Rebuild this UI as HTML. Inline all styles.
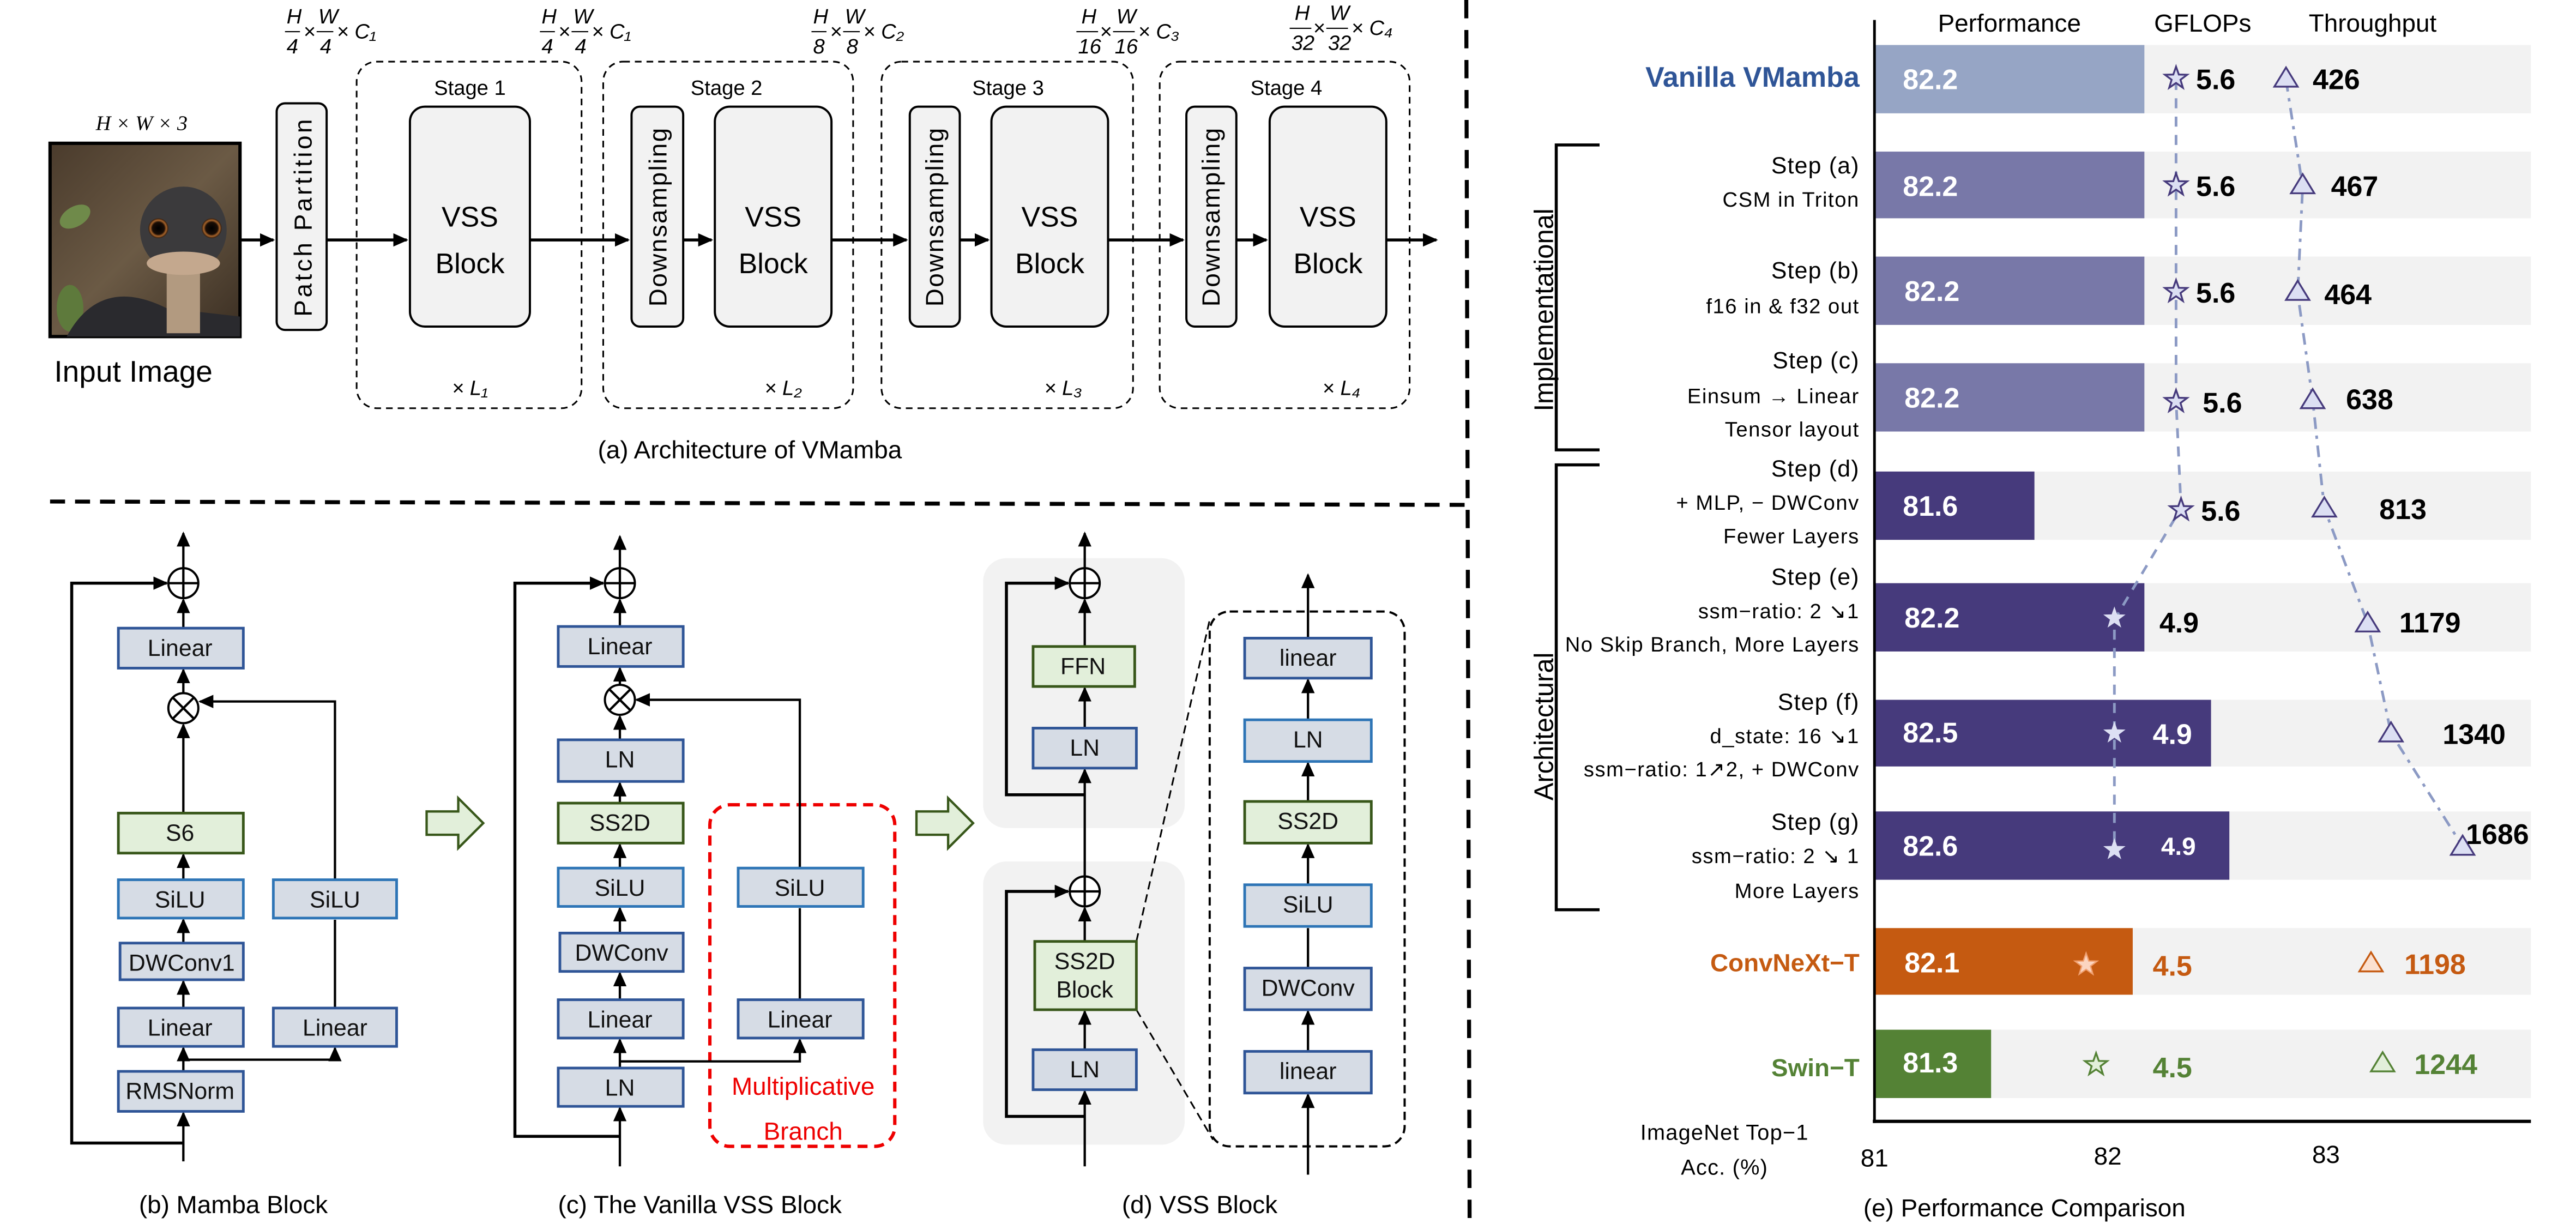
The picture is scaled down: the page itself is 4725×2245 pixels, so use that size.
<!DOCTYPE html>
<html><head><meta charset="utf-8"><style>
html,body{margin:0;padding:0;background:#fff;}
svg{display:block;}
text{font-family:"Liberation Sans",sans-serif;}
.b{fill:#d6dce5;stroke:#2f5597;stroke-width:1.6;}
.bl{fill:#d6dce5;stroke:#2e75b6;stroke-width:1.6;}
.g{fill:#e2efda;stroke:#38571a;stroke-width:1.6;}
.t{font-size:14px;text-anchor:middle;dominant-baseline:central;fill:#111;}
.ln{stroke:#000;stroke-width:1.4;fill:none;}
.lnb{stroke:#000;stroke-width:1.8;fill:none;}
.st{font-size:14px;text-anchor:end;fill:#000;letter-spacing:0.4px;}
.sb{font-size:12.5px;text-anchor:end;fill:#000;letter-spacing:0.5px;}
.bv{font-size:17px;font-weight:bold;fill:#fff;dominant-baseline:central;}
.nv{font-size:17px;font-weight:bold;fill:#000;dominant-baseline:central;}
.m{font-family:"Liberation Serif",serif;font-style:italic;font-size:12.5px;}
</style></head><body>
<svg width="4725" height="2245" viewBox="0 0 1546 734.6" xmlns="http://www.w3.org/2000/svg">
<defs>
<marker id="a" markerUnits="userSpaceOnUse" markerWidth="9" markerHeight="8" refX="8" refY="4" orient="auto"><path d="M0,0 L9,4 L0,8 z" fill="#000"/></marker>
<path id="star" d="M0,-7 L1.65,-2.27 L6.66,-2.16 L2.66,0.87 L4.11,5.66 L0,2.8 L-4.11,5.66 L-2.66,0.87 L-6.66,-2.16 L-1.65,-2.27 Z"/>
<path id="tri" d="M0,-6.5 L7,5 L-7,5 Z"/>
<linearGradient id="bg" x1="0" y1="0" x2="1" y2="1"><stop offset="0" stop-color="#4a3b2c"/><stop offset="0.5" stop-color="#6b5a45"/><stop offset="1" stop-color="#3a2e22"/></linearGradient>
<radialGradient id="eye"><stop offset="0" stop-color="#000"/><stop offset="0.6" stop-color="#1a0d05"/><stop offset="0.8" stop-color="#a8642a"/><stop offset="1" stop-color="#2a1a10"/></radialGradient>
</defs>

<!-- ===== (a) ===== -->
<text x="85" y="78" class="m" text-anchor="middle" font-size="14">H × W × 3</text>
<rect x="30" y="86" width="114" height="116" fill="url(#bg)" stroke="#000" stroke-width="2"/>
<ellipse cx="45" cy="130" rx="10" ry="6" fill="#6f8a4a" transform="rotate(-30 45 130)"/>
<ellipse cx="42" cy="185" rx="8" ry="14" fill="#5e7a3c"/>
<path d="M40,202 Q60,165 100,185 L144,190 L144,202 Z" fill="#2a2a2e"/>
<rect x="100" y="160" width="20" height="40" fill="#b29a80"/>
<ellipse cx="110" cy="138" rx="26" ry="26" fill="#3b3a3c"/>
<ellipse cx="110" cy="158" rx="22" ry="7" fill="#c4a88e"/>
<circle cx="95" cy="137" r="6" fill="url(#eye)"/>
<circle cx="127" cy="137" r="6" fill="url(#eye)"/>
<text x="80" y="229" font-size="18" text-anchor="middle">Input Image</text>

<line x1="144" y1="144" x2="164" y2="144" class="lnb" marker-end="url(#a)"/>
<rect x="166" y="62" width="30" height="136" rx="5" fill="#f2f2f2" stroke="#000" stroke-width="1.3"/>
<text transform="translate(187,130) rotate(-90)" font-size="15" text-anchor="middle" letter-spacing="1.5">Patch Partition</text>

<g fill="none" stroke="#000" stroke-width="1" stroke-dasharray="4,3">
<rect x="214" y="37" width="135" height="208" rx="12"/>
<rect x="362" y="37" width="150" height="208" rx="12"/>
<rect x="529" y="37" width="151" height="208" rx="12"/>
<rect x="696" y="37" width="150" height="208" rx="12"/>
</g>
<g font-size="12.5" text-anchor="middle">
<text x="282" y="57">Stage 1</text><text x="436" y="57">Stage 2</text><text x="605" y="57">Stage 3</text><text x="772" y="57">Stage 4</text>
</g>
<g fill="#f2f2f2" stroke="#000" stroke-width="1.3">
<rect x="246" y="64" width="72" height="132" rx="9"/>
<rect x="429" y="64" width="70" height="132" rx="9"/>
<rect x="595" y="64" width="70" height="132" rx="9"/>
<rect x="762" y="64" width="70" height="132" rx="9"/>
<rect x="379" y="64" width="31" height="132" rx="5"/>
<rect x="546" y="64" width="30" height="132" rx="5"/>
<rect x="712" y="64" width="30" height="132" rx="5"/>
</g>
<g font-size="17" text-anchor="middle">
<text x="282" y="136">VSS</text><text x="282" y="164">Block</text>
<text x="464" y="136">VSS</text><text x="464" y="164">Block</text>
<text x="630" y="136">VSS</text><text x="630" y="164">Block</text>
<text x="797" y="136">VSS</text><text x="797" y="164">Block</text>
</g>
<g font-size="15" text-anchor="middle" letter-spacing="0.8">
<text transform="translate(400,130) rotate(-90)">Downsampling</text>
<text transform="translate(566,130) rotate(-90)">Downsampling</text>
<text transform="translate(732,130) rotate(-90)">Downsampling</text>
</g>
<g class="lnb">
<line x1="196" y1="144" x2="244" y2="144" marker-end="url(#a)"/>
<line x1="318" y1="144" x2="377" y2="144" marker-end="url(#a)"/>
<line x1="410" y1="144" x2="427" y2="144" marker-end="url(#a)"/>
<line x1="499" y1="144" x2="544" y2="144" marker-end="url(#a)"/>
<line x1="576" y1="144" x2="593" y2="144" marker-end="url(#a)"/>
<line x1="665" y1="144" x2="710" y2="144" marker-end="url(#a)"/>
<line x1="742" y1="144" x2="760" y2="144" marker-end="url(#a)"/>
<line x1="832" y1="144" x2="862" y2="144" marker-end="url(#a)"/>
</g>
<g class="m" font-size="15" text-anchor="middle">
<text x="282" y="237">× L₁</text><text x="470" y="237">× L₂</text><text x="638" y="237">× L₃</text><text x="805" y="237">× L₄</text>
</g>
<!-- dims -->
<g class="m">
<g transform="translate(172,0)"><text x="0" y="14">H</text><text x="0" y="32">4</text><line x1="-1" y1="19" x2="8" y2="19" stroke="#000" stroke-width="0.7"/><text x="10" y="23">×</text><text x="19" y="14">W</text><text x="20" y="32">4</text><line x1="18" y1="19" x2="28" y2="19" stroke="#000" stroke-width="0.7"/><text x="30" y="23">× C₁</text></g>
<g transform="translate(325,0)"><text x="0" y="14">H</text><text x="0" y="32">4</text><line x1="-1" y1="19" x2="8" y2="19" stroke="#000" stroke-width="0.7"/><text x="10" y="23">×</text><text x="19" y="14">W</text><text x="20" y="32">4</text><line x1="18" y1="19" x2="28" y2="19" stroke="#000" stroke-width="0.7"/><text x="30" y="23">× C₁</text></g>
<g transform="translate(488,0)"><text x="0" y="14">H</text><text x="0" y="32">8</text><line x1="-1" y1="19" x2="8" y2="19" stroke="#000" stroke-width="0.7"/><text x="10" y="23">×</text><text x="19" y="14">W</text><text x="20" y="32">8</text><line x1="18" y1="19" x2="28" y2="19" stroke="#000" stroke-width="0.7"/><text x="30" y="23">× C₂</text></g>
<g transform="translate(648,0)"><text x="1" y="14">H</text><text x="-1" y="32">16</text><line x1="-2" y1="19" x2="11" y2="19" stroke="#000" stroke-width="0.7"/><text x="12" y="23">×</text><text x="22" y="14">W</text><text x="21" y="32">16</text><line x1="20" y1="19" x2="33" y2="19" stroke="#000" stroke-width="0.7"/><text x="35" y="23">× C₃</text></g>
<g transform="translate(776,0)"><text x="1" y="12">H</text><text x="-1" y="30">32</text><line x1="-2" y1="17" x2="11" y2="17" stroke="#000" stroke-width="0.7"/><text x="12" y="21">×</text><text x="22" y="12">W</text><text x="21" y="30">32</text><line x1="20" y1="17" x2="33" y2="17" stroke="#000" stroke-width="0.7"/><text x="35" y="21">× C₄</text></g>
</g>
<text x="450" y="275" font-size="15" text-anchor="middle">(a) Architecture of VMamba</text>

<!-- separators -->
<line x1="30" y1="301" x2="880" y2="303" stroke="#000" stroke-width="2.4" stroke-dasharray="9,6"/>
<line x1="880" y1="0" x2="882" y2="735" stroke="#000" stroke-width="2.4" stroke-dasharray="11,7"/>

<!-- ===== (b) Mamba Block ===== -->
<g class="ln">
<line x1="110" y1="341" x2="110" y2="320" marker-end="url(#a)"/>
<line x1="110" y1="377" x2="110" y2="360" marker-end="url(#a)"/>
<line x1="110" y1="416" x2="110" y2="402" marker-end="url(#a)"/>
<line x1="110" y1="488" x2="110" y2="435" marker-end="url(#a)"/>
<line x1="110" y1="528" x2="110" y2="513" marker-end="url(#a)"/>
<line x1="110" y1="566" x2="110" y2="552" marker-end="url(#a)"/>
<line x1="110" y1="605" x2="110" y2="589" marker-end="url(#a)"/>
<line x1="110" y1="643" x2="110" y2="629" marker-end="url(#a)"/>
<line x1="110" y1="697" x2="110" y2="668" marker-end="url(#a)"/>
<polyline points="110,636 201,636 201,629" marker-end="url(#a)"/>
<line x1="201" y1="605" x2="201" y2="552"/>
<polyline points="201,528 201,421 120,421" marker-end="url(#a)"/>
<polyline points="110,686 43,686 43,350 100,350" class="lnb" marker-end="url(#a)"/>
</g>
<circle cx="110" cy="350" r="9" fill="#fff" stroke="#000" stroke-width="1.3"/><path d="M101,350 H119 M110,341 V359" class="ln"/>
<circle cx="110" cy="425" r="9" fill="#fff" stroke="#000" stroke-width="1.3"/><path d="M104,419 L116,431 M116,419 L104,431" class="ln"/>
<rect x="71" y="377" width="75" height="24" class="b"/><text x="108" y="389" class="t">Linear</text>
<rect x="71" y="488" width="75" height="24" class="g"/><text x="108" y="500" class="t">S6</text>
<rect x="71" y="528" width="75" height="23" class="bl"/><text x="108" y="540" class="t">SiLU</text>
<rect x="72" y="566" width="74" height="22" class="b"/><text x="109" y="578" class="t" font-size="13">DWConv1</text>
<rect x="71" y="605" width="75" height="23" class="b"/><text x="108" y="617" class="t">Linear</text>
<rect x="71" y="643" width="75" height="24" class="b"/><text x="108" y="655" class="t" font-size="13">RMSNorm</text>
<rect x="164" y="528" width="74" height="23" class="bl"/><text x="201" y="540" class="t">SiLU</text>
<rect x="164" y="605" width="74" height="23" class="b"/><text x="201" y="617" class="t">Linear</text>
<text x="140" y="728" font-size="15" text-anchor="middle">(b) Mamba Block</text>

<!-- green arrows -->
<path d="M256,487 H275 V479 L290,494 L275,509 V501 H256 Z" fill="#e2efda" stroke="#38571a" stroke-width="1.4"/>
<path d="M550,487 H569 V479 L584,494 L569,509 V501 H550 Z" fill="#e2efda" stroke="#38571a" stroke-width="1.4"/>

<!-- ===== (c) Vanilla VSS ===== -->
<rect x="426" y="483" width="111" height="205" rx="12" fill="none" stroke="#e00" stroke-width="2" stroke-dasharray="6,4"/>
<g class="ln">
<line x1="372" y1="341" x2="372" y2="322" marker-end="url(#a)"/>
<line x1="372" y1="376" x2="372" y2="360" marker-end="url(#a)"/>
<line x1="372" y1="444" x2="372" y2="430" marker-end="url(#a)"/>
<line x1="372" y1="482" x2="372" y2="470" marker-end="url(#a)"/>
<line x1="372" y1="521" x2="372" y2="507" marker-end="url(#a)"/>
<line x1="372" y1="560" x2="372" y2="545" marker-end="url(#a)"/>
<line x1="372" y1="600" x2="372" y2="584" marker-end="url(#a)"/>
<line x1="372" y1="641" x2="372" y2="624" marker-end="url(#a)"/>
<line x1="372" y1="700" x2="372" y2="665" marker-end="url(#a)"/>
<line x1="372" y1="416" x2="372" y2="401" marker-end="url(#a)"/>
<polyline points="372,637 480,637 480,624" marker-end="url(#a)"/>
<line x1="480" y1="600" x2="480" y2="545"/>
<polyline points="480,521 480,420 382,420" marker-end="url(#a)"/>
<polyline points="372,682 309,682 309,350 362,350" class="lnb" marker-end="url(#a)"/>
</g>
<circle cx="372" cy="350" r="9" fill="#fff" stroke="#000" stroke-width="1.3"/><path d="M363,350 H381 M372,341 V359" class="ln"/>
<circle cx="372" cy="420" r="9" fill="#fff" stroke="#000" stroke-width="1.3"/><path d="M366,414 L378,426 M378,414 L366,426" class="ln"/>
<rect x="335" y="376" width="75" height="24" class="b"/><text x="372" y="388" class="t">Linear</text>
<rect x="335" y="444" width="75" height="25" class="b"/><text x="372" y="456" class="t">LN</text>
<rect x="335" y="482" width="75" height="24" class="g"/><text x="372" y="494" class="t">SS2D</text>
<rect x="335" y="521" width="75" height="23" class="bl"/><text x="372" y="533" class="t">SiLU</text>
<rect x="336" y="560" width="74" height="23" class="b"/><text x="373" y="572" class="t" font-size="13">DWConv</text>
<rect x="335" y="600" width="75" height="23" class="b"/><text x="372" y="612" class="t">Linear</text>
<rect x="335" y="641" width="75" height="23" class="b"/><text x="372" y="653" class="t">LN</text>
<rect x="443" y="521" width="75" height="23" class="bl"/><text x="480" y="533" class="t">SiLU</text>
<rect x="443" y="600" width="75" height="23" class="b"/><text x="480" y="612" class="t">Linear</text>
<text x="482" y="657" font-size="15" fill="#e00" text-anchor="middle">Multiplicative</text>
<text x="482" y="684" font-size="15" fill="#e00" text-anchor="middle">Branch</text>
<text x="420" y="728" font-size="15" text-anchor="middle">(c) The Vanilla VSS Block</text>

<!-- ===== (d) VSS Block ===== -->
<rect x="590" y="335" width="121" height="162" rx="14" fill="#f2f2f2"/>
<rect x="590" y="517" width="121" height="170" rx="14" fill="#f2f2f2"/>
<rect x="726" y="367" width="117" height="321" rx="12" fill="none" stroke="#000" stroke-width="1.3" stroke-dasharray="5,3"/>
<line x1="682" y1="565" x2="726" y2="372" stroke="#000" stroke-width="1" stroke-dasharray="5,3"/>
<line x1="682" y1="606" x2="728" y2="684" stroke="#000" stroke-width="1" stroke-dasharray="5,3"/>
<g class="ln">
<line x1="651" y1="341" x2="651" y2="320" marker-end="url(#a)"/>
<line x1="651" y1="388" x2="651" y2="360" marker-end="url(#a)"/>
<line x1="651" y1="437" x2="651" y2="413" marker-end="url(#a)"/>
<line x1="651" y1="526" x2="651" y2="462" marker-end="url(#a)"/>
<line x1="651" y1="565" x2="651" y2="545" marker-end="url(#a)"/>
<line x1="651" y1="630" x2="651" y2="607" marker-end="url(#a)"/>
<line x1="651" y1="700" x2="651" y2="655" marker-end="url(#a)"/>
<polyline points="651,477 604,477 604,350 641,350" class="lnb" marker-end="url(#a)"/>
<polyline points="651,670 604,670 604,535 641,535" class="lnb" marker-end="url(#a)"/>
<line x1="785" y1="383" x2="785" y2="345" marker-end="url(#a)"/>
<line x1="785" y1="432" x2="785" y2="408" marker-end="url(#a)"/>
<line x1="785" y1="481" x2="785" y2="458" marker-end="url(#a)"/>
<line x1="785" y1="531" x2="785" y2="507" marker-end="url(#a)"/>
<line x1="785" y1="581" x2="785" y2="557"/>
<line x1="785" y1="631" x2="785" y2="607" marker-end="url(#a)"/>
<line x1="785" y1="705" x2="785" y2="657" marker-end="url(#a)"/>
</g>
<circle cx="651" cy="350" r="9" fill="#fff" stroke="#000" stroke-width="1.3"/><path d="M642,350 H660 M651,341 V359" class="ln"/>
<circle cx="651" cy="535" r="9" fill="#fff" stroke="#000" stroke-width="1.3"/><path d="M642,535 H660 M651,526 V544" class="ln"/>
<rect x="620" y="388" width="61" height="24" class="g"/><text x="650" y="400" class="t">FFN</text>
<rect x="620" y="437" width="62" height="24" class="b"/><text x="651" y="449" class="t">LN</text>
<rect x="621" y="565" width="61" height="41" class="g"/><text x="651" y="577" class="t" font-size="13">SS2D</text><text x="651" y="594" class="t" font-size="13">Block</text>
<rect x="620" y="630" width="62" height="24" class="b"/><text x="651" y="642" class="t">LN</text>
<rect x="747" y="383" width="76" height="24" class="b"/><text x="785" y="395" class="t">linear</text>
<rect x="747" y="432" width="76" height="25" class="bl"/><text x="785" y="444" class="t">LN</text>
<rect x="747" y="481" width="76" height="25" class="g"/><text x="785" y="493" class="t">SS2D</text>
<rect x="747" y="531" width="76" height="25" class="bl"/><text x="785" y="543" class="t">SiLU</text>
<rect x="747" y="581" width="76" height="25" class="b"/><text x="785" y="593" class="t" font-size="13">DWConv</text>
<rect x="747" y="631" width="76" height="25" class="b"/><text x="785" y="643" class="t">linear</text>
<text x="720" y="728" font-size="15" text-anchor="middle">(d) VSS Block</text>

<!-- ===== (e) Performance ===== -->
<g fill="#f2f2f2">
<rect x="1125" y="27" width="394" height="41"/><rect x="1125" y="91" width="394" height="40"/>
<rect x="1125" y="154" width="394" height="41"/><rect x="1125" y="218" width="394" height="41"/>
<rect x="1125" y="283" width="394" height="41"/><rect x="1125" y="350" width="394" height="41"/>
<rect x="1125" y="420" width="394" height="40"/><rect x="1125" y="487" width="394" height="41"/>
<rect x="1125" y="557" width="394" height="40"/><rect x="1125" y="618" width="394" height="41"/>
</g>
<rect x="1125" y="27" width="162" height="41" fill="#96a5c5"/>
<rect x="1125" y="91" width="162" height="40" fill="#7878a8"/>
<rect x="1125" y="154" width="162" height="41" fill="#7878a8"/>
<rect x="1125" y="218" width="162" height="41" fill="#7878a8"/>
<rect x="1125" y="283" width="96" height="41" fill="#463a7c"/>
<rect x="1125" y="350" width="162" height="41" fill="#463a7c"/>
<rect x="1125" y="420" width="202" height="40" fill="#463a7c"/>
<rect x="1125" y="487" width="213" height="41" fill="#463a7c"/>
<rect x="1125" y="557" width="155" height="40" fill="#c55a11"/>
<rect x="1125" y="618" width="70" height="41" fill="#548235"/>
<line x1="1125" y1="12" x2="1125" y2="674" stroke="#000" stroke-width="1.6"/>
<line x1="1124" y1="673" x2="1519" y2="673" stroke="#000" stroke-width="2"/>
<g font-size="15" text-anchor="middle"><text x="1125" y="700">81</text><text x="1265" y="699">82</text><text x="1396" y="698">83</text></g>
<g font-size="15" text-anchor="middle"><text x="1206" y="19">Performance</text><text x="1322" y="19">GFLOPs</text><text x="1424" y="19">Throughput</text></g>

<!-- connectors -->
<polyline points="1306,48 1306,112 1306,176 1306,240 1309,305 1269,372 1269,440 1269,508" fill="none" stroke="#8c9ac4" stroke-width="1.6" stroke-dasharray="6,5"/>
<polyline points="1372,48 1382,112 1379,176 1388,240 1395,305 1421,374 1435,440 1478,508" fill="none" stroke="#8c9ac4" stroke-width="1.6" stroke-dasharray="7,4,2,4"/>

<g fill="#dcdff3" stroke="#463a7c" stroke-width="1.1">
<use href="#star" x="1306" y="47"/><use href="#star" x="1306" y="111"/><use href="#star" x="1306" y="175"/><use href="#star" x="1306" y="241"/><use href="#star" x="1309" y="306"/>
<use href="#tri" x="1372" y="47"/><use href="#tri" x="1382" y="111"/><use href="#tri" x="1379" y="175"/><use href="#tri" x="1388" y="240"/><use href="#tri" x="1395" y="305"/><use href="#tri" x="1421" y="374"/><use href="#tri" x="1435" y="440"/><use href="#tri" x="1478" y="508"/>
</g>
<g fill="#dcdff3"><use href="#star" x="1269" y="371"/><use href="#star" x="1269" y="440"/><use href="#star" x="1269" y="510"/></g>
<use href="#star" x="1252" y="579" fill="#fbd5c0" stroke="#f0a070" stroke-width="0.8"/>
<use href="#tri" x="1423" y="578" fill="#fbe0d0" stroke="#c55a11" stroke-width="1.1"/>
<use href="#star" x="1258" y="639" fill="#e2efda" stroke="#548235" stroke-width="1.1"/>
<use href="#tri" x="1430" y="638" fill="#e2efda" stroke="#548235" stroke-width="1.1"/>

<g class="bv">
<text x="1142" y="48">82.2</text><text x="1142" y="112">82.2</text><text x="1143" y="175">82.2</text><text x="1143" y="239">82.2</text>
<text x="1142" y="304">81.6</text><text x="1143" y="371">82.2</text><text x="1142" y="440">82.5</text><text x="1142" y="508">82.6</text>
<text x="1143" y="578">82.1</text><text x="1142" y="638">81.3</text>
<text x="1292" y="441">4.9</text><text x="1297" y="508" font-size="15">4.9</text>
</g>
<g class="nv">
<text x="1318" y="48">5.6</text><text x="1318" y="112">5.6</text><text x="1318" y="176">5.6</text><text x="1322" y="242">5.6</text><text x="1321" y="307">5.6</text>
<text x="1296" y="374">4.9</text>
<text x="1388" y="48">426</text><text x="1399" y="112">467</text><text x="1395" y="177">464</text><text x="1408" y="240">638</text>
<text x="1428" y="306">813</text><text x="1440" y="374">1179</text><text x="1466" y="441">1340</text><text x="1480" y="501">1686</text>
</g>
<g class="nv"><text x="1292" y="580" fill="#c55a11">4.5</text><text x="1443" y="579" fill="#c55a11">1198</text></g>
<g class="nv"><text x="1292" y="641" fill="#548235">4.5</text><text x="1449" y="639" fill="#548235">1244</text></g>

<!-- left labels -->
<text x="1116" y="52" font-size="17" font-weight="bold" fill="#2f5597" text-anchor="end">Vanilla VMamba</text>
<text x="1116" y="104" class="st">Step (a)</text><text x="1116" y="124" class="sb">CSM in Triton</text>
<text x="1116" y="167" class="st">Step (b)</text><text x="1116" y="188" class="sb">f16 in &amp; f32 out</text>
<text x="1116" y="221" class="st">Step (c)</text><text x="1116" y="242" class="sb">Einsum → Linear</text><text x="1116" y="262" class="sb">Tensor layout</text>
<text x="1116" y="286" class="st">Step (d)</text><text x="1116" y="306" class="sb">+ MLP, − DWConv</text><text x="1116" y="326" class="sb">Fewer Layers</text>
<text x="1116" y="351" class="st">Step (e)</text><text x="1116" y="371" class="sb">ssm−ratio: 2 ↘1</text><text x="1116" y="391" class="sb">No Skip Branch,  More Layers</text>
<text x="1116" y="426" class="st">Step (f)</text><text x="1116" y="446" class="sb">d_state: 16 ↘1</text><text x="1116" y="466" class="sb">ssm−ratio: 1↗2, + DWConv</text>
<text x="1116" y="498" class="st">Step (g)</text><text x="1116" y="518" class="sb">ssm−ratio: 2 ↘ 1</text><text x="1116" y="539" class="sb">More Layers</text>
<text x="1116" y="583" font-size="15" font-weight="bold" fill="#c55a11" text-anchor="end">ConvNeXt−T</text>
<text x="1116" y="646" font-size="15" font-weight="bold" fill="#548235" text-anchor="end">Swin−T</text>
<text x="1035" y="684" font-size="13" text-anchor="middle" letter-spacing="0.4">ImageNet Top−1</text>
<text x="1035" y="705" font-size="13" text-anchor="middle" letter-spacing="0.4">Acc. (%)</text>
<text x="1215" y="730" font-size="15" text-anchor="middle">(e) Performance Comparison</text>

<!-- brackets -->
<polyline points="960,87 934,87 934,270 960,270" fill="none" stroke="#000" stroke-width="1.8"/>
<polyline points="960,279 934,279 934,546 960,546" fill="none" stroke="#000" stroke-width="1.8"/>
<text transform="translate(932,186) rotate(-90)" font-size="16" text-anchor="middle">Implementational</text>
<text transform="translate(932,436) rotate(-90)" font-size="16" text-anchor="middle">Architectural</text>
</svg>
</body></html>
